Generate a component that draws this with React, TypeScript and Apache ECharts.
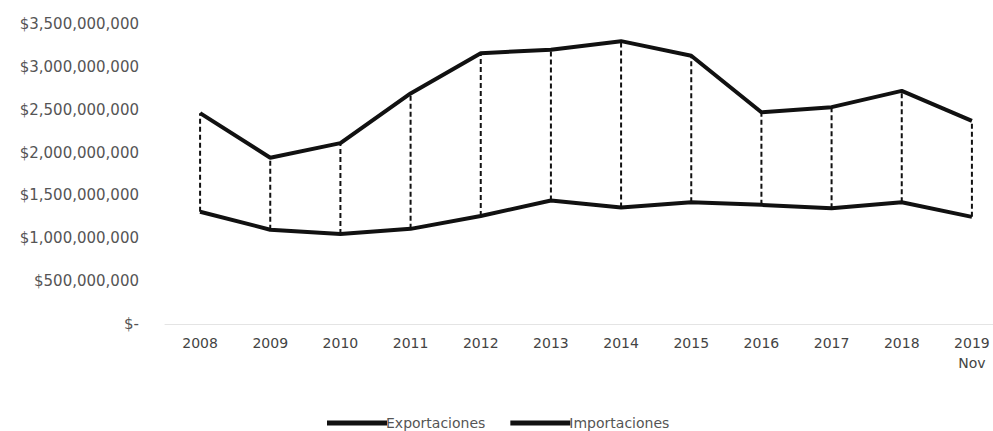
import React, { useEffect, useRef } from "react";
import * as echarts from "echarts";

const years = ["2008", "2009", "2010", "2011", "2012", "2013", "2014", "2015", "2016", "2017", "2018", "2019\nNov"];
const exportaciones = [1310000000, 1100000000, 1050000000, 1110000000, 1260000000, 1440000000, 1360000000, 1420000000, 1390000000, 1350000000, 1420000000, 1250000000];
const importaciones = [2460000000, 1940000000, 2110000000, 2690000000, 3160000000, 3200000000, 3300000000, 3130000000, 2470000000, 2530000000, 2720000000, 2370000000];
const yTicks = { min: 0, max: 3500000000, interval: 500000000 };

const FONT = "DejaVu Sans";

export default function App() {
  const ref = useRef<HTMLDivElement>(null);
  useEffect(() => {
    if (!ref.current) return;
    const chart = echarts.init(ref.current, null, { renderer: "svg" });
    const dropData = years.map((_, i) => [i, exportaciones[i], importaciones[i]]);
    chart.setOption({
      animation: false,
      backgroundColor: "#ffffff",
      grid: { left: 165, width: 842, top: 24, height: 300, containLabel: false, outerBoundsMode: "none" },
      legend: {
        left: 322,
        top: 411,
        itemWidth: 60,
        itemHeight: 5,
        itemGap: 25,
        icon: "rect",
        textStyle: { fontFamily: FONT, fontSize: 14, color: "#555", padding: [0, 0, 0, -6] },
        data: ["Exportaciones", "Importaciones"],
      },
      xAxis: {
        type: "category",
        data: years,
        boundaryGap: true,
        axisLine: { show: true, lineStyle: { color: "#e4e4e4", width: 1 } },
        axisTick: { show: false },
        axisLabel: {
          fontFamily: FONT,
          fontSize: 14,
          color: "#444",
          margin: 9,
          lineHeight: 20,
          interval: 0,
          hideOverlap: false,
        },
      },
      yAxis: {
        type: "value",
        min: yTicks.min,
        max: yTicks.max,
        interval: yTicks.interval,
        splitLine: { show: false },
        axisLine: { show: false },
        axisTick: { show: false },
        axisLabel: {
          fontFamily: FONT,
          fontSize: 15,
          color: "#555",
          margin: 26,
          formatter: (v: number) => (v === 0 ? "$-" : "$" + v.toLocaleString("en-US")),
        },
      },
      series: [
        {
          type: "custom",
          name: "drop",
          data: dropData,
          encode: { x: 0, y: [1, 2] },
          z: 1,
          renderItem: (params: any, api: any) => {
            const p1 = api.coord([api.value(0), api.value(1)]);
            const p2 = api.coord([api.value(0), api.value(2)]);
            return {
              type: "line",
              shape: { x1: p1[0], y1: p1[1], x2: p2[0], y2: p2[1] },
              style: { stroke: "#111", lineWidth: 2, lineDash: [5, 3] },
            };
          },
        },
        {
          type: "line",
          name: "Exportaciones",
          data: exportaciones,
          showSymbol: false,
          z: 3,
          lineStyle: { color: "#111", width: 4 },
          itemStyle: { color: "#111" },
        },
        {
          type: "line",
          name: "Importaciones",
          data: importaciones,
          showSymbol: false,
          z: 3,
          lineStyle: { color: "#111", width: 4 },
          itemStyle: { color: "#111" },
        },
      ],
    });
    return () => chart.dispose();
  }, []);
  return <div ref={ref} style={{ width: 993, height: 431, position: "absolute", left: 0, top: 0 }} />;
}
